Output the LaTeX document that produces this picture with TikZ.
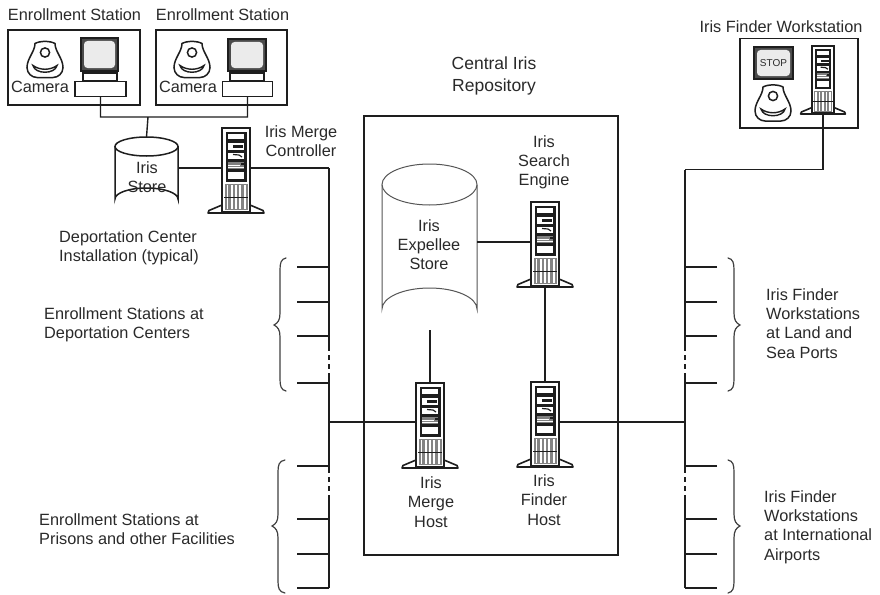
\documentclass[tikz,border=0pt]{standalone}
\usepackage{fontspec}
\setmainfont{Liberation Sans}
\usetikzlibrary{calc}
\definecolor{ink}{HTML}{1E1E1E}
\definecolor{txt}{HTML}{2A2A2A}
\tikzset{
  link/.style={draw=ink,line width=1.4pt},
  frame/.style={draw=ink,line width=1.7pt,fill=white},
  brace/.style={draw=ink!85,line width=1.2pt,line cap=round},
  lab/.style={font=\fontsize{16.3}{19.2}\selectfont,text=txt,align=center,inner sep=0pt},
  labl/.style={lab,align=left,anchor=west},
  big/.style={font=\fontsize{17.5}{22}\selectfont,text=txt,align=center,inner sep=0pt},
  anchorbox/.style={inner sep=0pt,outer sep=0pt,draw=none},
}
% server: name, centre x, top y, scale
\newcommand{\srv}[4]{%
  \pgfmathsetmacro{\srvw}{28*#4}\pgfmathsetmacro{\srvh}{80*#4}\pgfmathsetmacro{\srvy}{#3+40*#4}%
  \begin{scope}[shift={(#2,#3)},scale=#4]
    \draw[ink,line width=1.6pt,fill=white,line join=round] (-14,77)--(-27,82.5)--(-28,85)--(28,85)--(27,82.5)--(14,77)--cycle;
    \draw[ink,line width=1.7pt,fill=white] (-14,0) rectangle (14,84);
    \fill[ink] (-10.5,3.5) rectangle (10.5,53.5);
    \fill[white] (-8,6) rectangle (8,11);
    \fill[white] (-8,15) rectangle (8,21.5);
    \fill[ink] (-3,17) rectangle (7,19.5);
    \fill[white] (-8,24.5) rectangle (8,31);
    \draw[ink,line width=1.2pt] (-3,26.5)--(3,27)--(6,29);
    \fill[gray] (-8,34) rectangle (8,41);
    \fill[ink] (5,34.5) rectangle (8,37);
    \draw[white,line width=.4pt] (-8,37)--(4,37) (-8,39)--(8,39);
    \fill[white] (-8,44) rectangle (8,51);
    \fill[ink!55] (-11.5,56) rectangle (11.5,82);
    \foreach \vx in {-9.5,-5.2,-.9,3.4,7.7}{\fill[white] (\vx,57) rectangle ++(1.9,24);}
    \draw[ink,line width=.8pt] (-12,69)--(12,69);
  \end{scope}
  \node[anchorbox,minimum width=\srvw pt,minimum height=\srvh pt] (#1) at (#2,\srvy) {};%
}
% camera: centre x, top y
\newcommand{\cam}[2]{%
  \begin{scope}[shift={(#1,#2)}]
    \draw[ink,line width=1.5pt,fill=white] (-10,2) .. controls (-5,-.8) and (5,-.8) .. (10,2)
      .. controls (10,10) and (18,17) .. (18,26) .. controls (18,32) and (13,36) .. (8,36) -- (-8,36)
      .. controls (-13,36) and (-18,32) .. (-18,26) .. controls (-18,17) and (-10,10) .. (-10,2) -- cycle;
    \draw[ink,line width=1.5pt] (0,11) circle (4.6);
    \draw[ink,line width=1.4pt,fill=white] (-12,24) .. controls (-5,29) and (5,29) .. (12,24)
      .. controls (10,33) and (-10,33) .. (-12,24) -- cycle;
  \end{scope}}
% screen: name, x1, y1, x2, y2, text
\newcommand{\scrn}[6]{%
  \fill[ink!80] (#2,#3) rectangle (#4,#5);
  \draw[ink,line width=1.6pt] (#2,#3) rectangle (#4,#5);
  \node[anchorbox,fill=white!92!black,rounded corners=3.5pt,minimum width={#4-#2-6 pt},minimum height={#5-#3-6 pt},
        font=\fontsize{10}{12}\selectfont,text=txt] (#1) at ({(#2+#4)/2},{(#3+#5)/2}) {#6};}
\begin{document}
\begin{tikzpicture}[x=1pt,y=-1pt]
\useasboundingbox[fill=white] (0,0) rectangle (880,594);

% enrollment station frames
\node[frame,anchor=north west,minimum width=132pt,minimum height=75pt,inner sep=0pt] (es1) at (7,29) {};
\node[frame,anchor=north west,minimum width=131pt,minimum height=75pt,inner sep=0pt] (es2) at (155,29) {};
\node[lab] (es1t) at (74.5,15) {Enrollment Station};
\node[lab] (es2t) at (222.5,15) {Enrollment Station};

% workstation 1
\cam{45}{41.5}
\pgfmathsetmacro{\minw}{37-6}
\scrn{sc1}{81}{38}{118}{71}{}
\draw[frame,line width=1.4pt] (83,73) rectangle (117,81);
\draw[ink,line width=1.6pt] (88,72)--(112,72);
\node[frame,line width=1.4pt,minimum width=51pt,minimum height=15pt,inner sep=0pt] (b1) at (100.5,89) {};
\node[lab] (c1t) at (40,87) {Camera};

% workstation 2
\cam{192}{41.5}
\scrn{sc2}{228}{39}{266}{71}{}
\draw[frame,line width=1.4pt] (230,73) rectangle (264,81);
\draw[ink,line width=1.6pt] (235,72)--(259,72);
\node[frame,line width=1.4pt,minimum width=50pt,minimum height=15pt,inner sep=0pt] (b2) at (247.5,89) {};
\node[lab] (c2t) at (188,87) {Camera};

% iris store
\draw[frame,line width=1.5pt] (115,146) -- (115,199) arc[start angle=180,end angle=360,x radius=31.5,y radius=11] -- (178,146);
\draw[frame,line width=1.5pt] (146.5,146.5) ellipse[x radius=31.5,y radius=9.5];
\node[anchorbox,minimum width=63pt,minimum height=73pt] (store) at (146.5,173.5) {};
\node[lab] (storet) at (147,177.5) {Iris\\Store};

% merge controller
\srv{mc}{236}{128}{1}
\node[lab] (mct) at (301,141.5) {Iris Merge\\Controller};
\node[lab,align=left,anchor=west] (dep) at (59,247.5) {Deportation Center\\Installation (typical)};

% connectors top left
\coordinate (j1) at (148,117);
\draw[link] (b1.south) |- (j1) (b2.south) |- (j1) (j1) -- (store.north);
\draw[link] (store.east |- mc.west) -- (mc.west);
\coordinate (ltop) at (329,168);
\draw[link] (mc.east) -- (ltop);

% repository
\node[frame,line width=2pt,anchor=north west,minimum width=254pt,minimum height=439pt,inner sep=0pt] (repo) at (363,115) {};
\node[big] (repot) at (494,76) {Central Iris\\Repository};

% expellee store
\draw[draw=ink!75,line width=1pt,fill=white] (382,185) -- (382,309) arc[start angle=180,end angle=360,x radius=47.5,y radius=21] -- (477,185);
\draw[draw=ink!75,line width=1pt,fill=white] (429.5,184.5) ellipse[x radius=47.5,y radius=20.5];
\node[anchorbox,minimum width=95pt,minimum height=166pt] (exp) at (429.5,247) {};
\node[lab] (expt) at (429,244.5) {Iris\\Expellee\\Store};

% servers
\srv{se}{545}{202}{1}
\srv{mh}{430}{383}{1}
\srv{fh}{545}{382}{1}
\node[lab] (set) at (544,162) {Iris\\Search\\Engine};
\node[lab] (mht) at (431,502) {Iris\\Merge\\Host};
\node[lab] (fht) at (544,500) {Iris\\Finder\\Host};

\draw[link] (exp.east |- se.west) -- (se.west);
\draw[link] (exp.south -| mh.north) -- (mh.north);
\draw[link] (se.south) ++(0,5) -- (fh.north);

% finder workstation
\node[frame,line width=1.5pt,anchor=north west,minimum width=118pt,minimum height=89pt,inner sep=0pt] (fw) at (739,38) {};
\node[lab] (fwt) at (781,27) {Iris Finder Workstation};
\scrn{stop}{754}{47}{793}{79}{STOP}
\cam{773}{85}
\srv{fs}{823}{46}{.8}

% buses
\coordinate (rtop) at (685,169.5);
\draw[link] (fs.south) ++(0,4) |- (rtop);
\coordinate (lh) at (329,422);
\coordinate (rh) at (685,422);
\draw[link] (lh) -- (repo.west |- lh) (repo.west |- lh) -- (mh.west |- lh);
\draw[link] (fh.east |- rh) -- (rh);

\foreach \side/\bx/\top in {l/329/168,r/685/169.5}{
  \coordinate (\side a) at (\bx,\top);
  \coordinate (\side b) at (\bx,346);
  \coordinate (\side c) at (\bx,376);
  \coordinate (\side d) at (\bx,468);
  \coordinate (\side e) at (\bx,500);
  \coordinate (\side f) at (\bx,588);
  \draw[link] (\side a) -- (\side b) (\side c) -- (\side d) (\side e) -- (\side f);
  \draw[link,dash pattern=on 5pt off 4pt] (\side b) -- (\side c);
  \draw[link,dash pattern=on 5pt off 4pt] (\side d) -- (\side e);
}
\foreach \i/\sy in {1/267,2/302,3/336,4/383,5/466,6/519,7/554,8/588}{
  \coordinate (ls\i) at (297,\sy);
  \coordinate (rs\i) at (717,\sy);
  \draw[link] (ls\i) -- (ls\i -| la);
  \draw[link] (rs\i) -- (rs\i -| ra);
}

% braces
\draw[brace] (286,258) .. controls (281,259) and (280,263) .. (280,270) -- (280,313)
  .. controls (280,320) and (278,323) .. (274,325) .. controls (278,327) and (280,330) .. (280,337) -- (280,379)
  .. controls (280,386) and (281,390) .. (286,391);
\draw[brace] (285,460) .. controls (279,461) and (278,465) .. (278,472) -- (278,514)
  .. controls (278,521) and (276,524) .. (272,526) .. controls (276,528) and (278,531) .. (278,538) -- (278,581)
  .. controls (278,588) and (279,592) .. (285,593);
\draw[brace] (728,258) .. controls (733,259) and (734,263) .. (734,270) -- (734,313)
  .. controls (734,320) and (736,323) .. (740,325) .. controls (736,327) and (734,330) .. (734,337) -- (734,379)
  .. controls (734,386) and (733,390) .. (728,391);
\draw[brace] (728,460) .. controls (733,461) and (734,465) .. (734,472) -- (734,514)
  .. controls (734,521) and (736,524) .. (740,526) .. controls (736,528) and (734,531) .. (734,538) -- (734,581)
  .. controls (734,588) and (733,592) .. (728,593);

% side labels
\node[labl] (t1) at (44,324.5) {Enrollment Stations at\\Deportation Centers};
\node[labl] (t2) at (39,529.5) {Enrollment Stations at\\Prisons and other Facilities};
\node[labl] (t3) at (766,323.5) {Iris Finder\\Workstations\\at Land and\\Sea Ports};
\node[labl] (t4) at (764,527) {Iris Finder\\Workstations\\at International\\Airports};
\end{tikzpicture}
\end{document}
